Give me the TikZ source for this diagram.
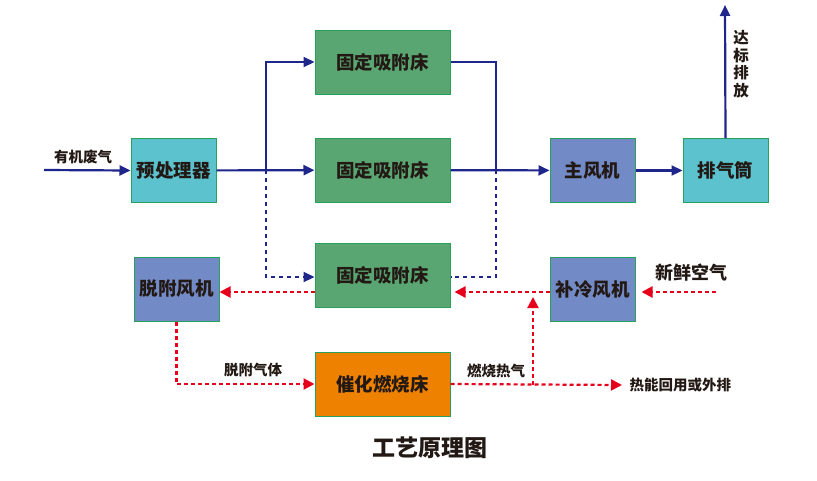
\documentclass[tikz,border=0pt]{standalone}
\usepackage{fontspec}
\setmainfont{Noto Sans CJK SC}
\usepackage{xcolor}
\usetikzlibrary{arrows.meta,positioning}
\definecolor{lineblue}{RGB}{30,38,140}
\definecolor{linered}{RGB}{230,0,28}
\definecolor{boxedge}{RGB}{40,160,90}
\definecolor{cyanfill}{RGB}{91,194,206}
\definecolor{bedfill}{RGB}{90,166,114}
\definecolor{fanfill}{RGB}{114,138,198}
\definecolor{catfill}{RGB}{238,130,0}
\definecolor{txt}{RGB}{35,25,20}
\begin{document}
\begin{tikzpicture}[x=1pt,y=-1pt,text=txt,
  font=\bfseries\fontsize{18.5}{22}\selectfont,
  box/.style={draw=boxedge,line width=1pt,minimum width=85pt,minimum height=64pt,inner sep=0pt},
  bed/.style={box,fill=bedfill,minimum width=135pt},
  lbl/.style={font=\bfseries\fontsize{14.5}{18}\selectfont},
  bline/.style={draw=lineblue,line width=2.2pt},
  arr/.style={bline,-{Triangle[length=11pt,width=10pt]}},
  bdot/.style={bline,dash pattern=on 4pt off 4pt},
  rarr/.style={draw=linered,line width=2.2pt,dash pattern=on 4pt off 3pt,-{Triangle[length=11pt,width=11pt]}}]
  \useasboundingbox (0,0) rectangle (817,480);
  % boxes
  \node[box,fill=cyanfill](pre) at (173.5,170.5){预处理器};
  \node[bed](bed1) at (382.5,62){固定吸附床};
  \node[bed](bed2) at (382.5,170){固定吸附床};
  \node[bed](bed3) at (382.5,275){固定吸附床};
  \node[box,fill=fanfill](fan) at (592.5,170.5){主风机};
  \node[box,fill=cyanfill](stack) at (725.5,170.5){排气筒};
  \node[box,fill=fanfill](desfan) at (176.5,289){脱附风机};
  \node[box,fill=fanfill](cool) at (592.5,289){补冷风机};
  \node[bed,fill=catfill](cat) at (382.5,384){催化燃烧床};
  % helper points
  \coordinate (src) at (44,170);
  \coordinate (j) at (266,170);
  \coordinate (k) at (496,170);
  \coordinate (top) at (725,5);
  \coordinate (r3) at ([yshift=-17pt]bed3.east);
  \coordinate (l3) at ([yshift=-17pt]bed3.west);
  \coordinate (fresh) at (716,292);
  \coordinate (out) at (622,385);
  \coordinate (h) at (533,385);
  % blue lines
  \draw[arr](src)--(pre.west);
  \draw[arr](pre)--(bed2);
  \draw[arr](j)|-(bed1.west);
  \draw[bdot,-{Triangle[length=11pt,width=10pt]}](j)|-([yshift=-2pt]bed3.west);
  \draw[bline](bed1.east)-|(k);
  \draw[bdot](k)|-([yshift=-2pt]bed3.east);
  \draw[arr](bed2)--(fan);
  \draw[arr](fan)--(stack);
  \draw[arr](stack.north)--(top);
  % red lines
  \draw[rarr](l3)--(l3 -| desfan.east);
  \draw[rarr,shorten >=4pt](r3 -| cool.west)--(r3);
  \draw[rarr,shorten >=6pt](fresh)--(fresh -| cool.east);
  \draw[rarr](desfan.south)|-(cat.west);
  \draw[rarr](cat.east)--(out);
  \draw[rarr,shorten >=5pt](h)--(h |- r3);
  % labels
  \node[lbl](t1) at (83,157){有机废气};
  \node[lbl,align=center,font=\bfseries\fontsize{15.5}{17.5}\selectfont](t2) at (741,64){达\\标\\排\\放};
  \node[lbl](t3) at (253,370){脱附气体};
  \node[lbl](t4) at (496,371){燃烧热气};
  \node[lbl,font=\bfseries\fontsize{18}{21}\selectfont](t5) at (691,273){新鲜空气};
  \node[lbl,anchor=west](t6) at (626,385){热能回用或外排};
  \node[font=\bfseries\fontsize{23}{26}\selectfont](title) at (430,448){工艺原理图};
\end{tikzpicture}
\end{document}
